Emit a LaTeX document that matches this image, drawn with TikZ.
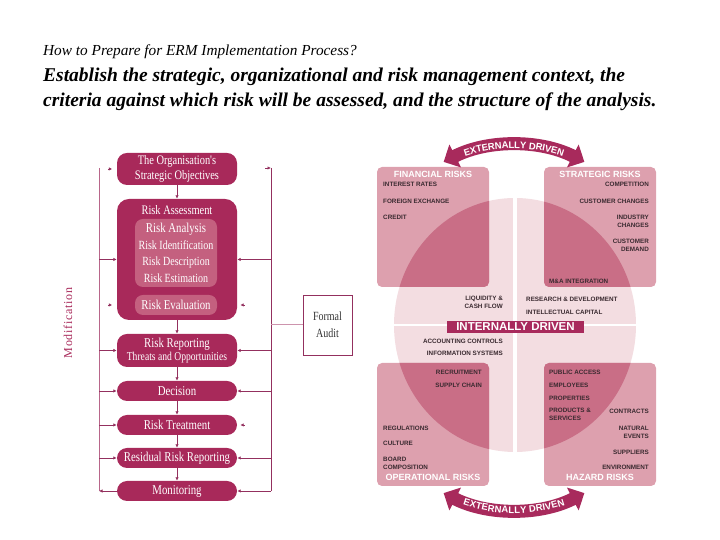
\documentclass[tikz,border=0pt]{standalone}
\usepackage{fontspec}
\setmainfont{Liberation Serif}
\setsansfont{Liberation Sans}
\newfontfamily\flowfont[FakeStretch=0.8]{Liberation Serif}
\usetikzlibrary{arrows.meta,decorations.text}
\definecolor{boxred}{HTML}{A8295A}
\definecolor{innerred}{HTML}{C4607F}
\definecolor{linered}{HTML}{93305E}
\definecolor{vlinered}{HTML}{B8668A}
\definecolor{diskcol}{HTML}{F3DDE1}
\definecolor{quadcol}{HTML}{DDA0AE}
\definecolor{overcol}{HTML}{C96E86}
\definecolor{darkband}{HTML}{A82A5C}
\definecolor{smalltext}{HTML}{3A2A30}
\begin{document}
\begin{tikzpicture}[x=1pt,y=1pt,
  flowbox/.style={fill=boxred, rounded corners=10pt, minimum width=120pt, inner sep=0pt,
    text=white, align=center, font=\flowfont\fontsize{13.5}{15}\selectfont},
  innerbox/.style={fill=innerred, rounded corners=8pt, minimum width=82pt, inner sep=0pt,
    text=white, align=center, font=\flowfont\fontsize{12.5}{16.5}\selectfont},
  conn/.style={draw=linered, line width=0.8pt, -{Latex[length=3.5pt,width=3.5pt]}},
  vline/.style={draw=vlinered, line width=1pt},
  rline/.style={draw=linered, line width=1pt},
  quad/.style={fill=quadcol, rounded corners=5pt},
  qtitle/.style={text=white, font=\sffamily\bfseries\fontsize{9}{10}\selectfont, inner sep=0pt},
  item/.style={text=smalltext, font=\sffamily\bfseries\fontsize{6.3}{7.8}\selectfont, inner sep=0pt},
  iteml/.style={item, anchor=west, align=left},
  itemr/.style={item, anchor=east, align=right},
  band/.style={draw=darkband, line width=13pt,
    {Triangle[width=25pt,length=13pt]}-{Triangle[width=25pt,length=13pt]}},
  bandtext/.style={decorate, decoration={text along path, text align=center, raise=-3.4pt,
    text={|\sffamily\bfseries\fontsize{9.5}{10}\selectfont\color{white}|EXTERNALLY DRIVEN}}}
]
\useasboundingbox (0,0) rectangle (720,540);

% ---------- title ----------
\node[anchor=base west, inner sep=0pt, font=\itshape\fontsize{15.3}{18}\selectfont] (t1) at (43,484) {How to Prepare for ERM Implementation Process?};
\node[anchor=base west, inner sep=0pt, font=\bfseries\itshape\fontsize{19.5}{22}\selectfont] (t2) at (43,458) {Establish the strategic, organizational and risk management context, the};
\node[anchor=base west, inner sep=0pt, font=\bfseries\itshape\fontsize{19.5}{22}\selectfont] (t3) at (43,433) {criteria against which risk will be assessed, and the structure of the analysis.};

% ---------- left flow chart ----------
\node[flowbox, minimum height=32pt, font=\flowfont\fontsize{13}{15.5}\selectfont] (org) at (177,371) {The Organisation's\\Strategic Objectives};
\node[flowbox, minimum height=121pt, rounded corners=12pt] (ra) at (177,280.5) {};
\node[text=white, font=\flowfont\fontsize{13}{14}\selectfont, inner sep=0pt] (ratitle) at (177,330) {Risk Assessment};
\node[innerbox, minimum height=68pt] (ana) at (176,287) {\fontsize{13.5}{16.5}\selectfont Risk Analysis\\Risk Identification\\Risk Description\\Risk Estimation};
\node[innerbox, minimum height=20pt, font=\flowfont\fontsize{13.5}{15}\selectfont] (eval) at (176,235) {Risk Evaluation};
\node[flowbox, minimum height=33pt] (rr) at (177,189.5) {Risk Reporting\\[-2pt]{\fontsize{12}{13}\selectfont Threats and Opportunities}};
\node[flowbox, minimum height=20pt] (dec) at (177,149) {Decision};
\node[flowbox, minimum height=20pt] (rt) at (177,115) {Risk Treatment};
\node[flowbox, minimum height=20pt] (res) at (177,82) {Residual Risk Reporting};
\node[flowbox, minimum height=20pt] (mon) at (177,49) {Monitoring};

\draw[conn] (org.south) -- (ra.north);
\draw[conn] (ra.south) -- (rr.north);
\draw[conn] (rr.south) -- (dec.north);
\draw[conn] (dec.south) -- (rt.north);
\draw[conn] (rt.south) -- (res.north);
\draw[conn] (res.south) -- (mon.north);

\coordinate (lt) at (99,372);
\coordinate (lb) at (99,49);
\coordinate (rtop) at (271,372);
\coordinate (rbot) at (271,49);
\draw[vline] (lt) -- (lb);
\draw[rline] (rtop) -- (rbot);

% left feed arrows
\draw[conn] (lt |- ra.west) -- (ra.west);
\draw[conn] (lt |- rr.west) -- (rr.west);
\draw[conn] (lt |- dec.west) -- (dec.west);
\draw[conn] (lt |- rt.west) -- (rt.west);
\draw[conn] (lt |- res.west) -- (res.west);
\draw[conn] (mon.west) -- (lb);
% right feed arrows
\draw[conn] (rtop |- ra.east) -- (ra.east);
\draw[conn] (rtop |- rr.east) -- (rr.east);
\draw[conn] (rtop |- dec.east) -- (dec.east);
\draw[conn] (rtop |- res.east) -- (res.east);
\draw[conn] (rbot) -- (mon.east);
% isolated arrow heads
\coordinate (evl) at (ra.west |- eval.west);
\coordinate (evr) at (ra.east |- eval.east);
\coordinate (orgl) at (org.west);
\draw[conn] ([xshift=-9pt]orgl) -- ([xshift=-4.5pt]orgl);
\draw[conn] ([xshift=-9pt]evl) -- ([xshift=-4.5pt]evl);
\draw[conn] ([xshift=7.5pt]evr) -- ([xshift=3pt]evr);
\draw[conn] ([xshift=7.5pt]rt.east) -- ([xshift=3pt]rt.east);
\draw[conn] ([xshift=-6pt]rtop) -- (rtop);

% formal audit
\node[draw=linered, line width=0.8pt, minimum width=49pt, minimum height=60pt, align=center,
  inner sep=0pt, text=black!80, font=\flowfont\fontsize{12.5}{17}\selectfont] (audit) at (327.5,215) {Formal\\Audit};
\draw[draw=vlinered!70, line width=1pt] (rtop |- audit.west) -- (audit.west);

\node[rotate=90, text=boxred, font=\fontsize{12}{14}\selectfont, inner sep=0pt] (modif) at (68,217) {\addfontfeature{LetterSpace=6}Modification};

% ---------- right diagram ----------
\fill[diskcol] (515,215) ellipse [x radius=121, y radius=127];
\fill[white] (512.5,80) rectangle (516.5,350);
\fill[white] (390,214) rectangle (640,216);

\foreach \bx/\by/\cx/\cy in {377/373/489/253, 544/373/656/253, 377/177/489/54, 544/177/656/54}{
  \fill[quad] (\bx,\by) rectangle (\cx,\cy);
  \begin{scope}
    \clip[rounded corners=5pt] (\bx,\by) rectangle (\cx,\cy);
    \fill[overcol] (515,215) ellipse [x radius=121, y radius=127];
    \fill[white] (512.5,80) rectangle (516.5,350);
  \end{scope}
}

\node[fill=darkband, minimum width=137pt, minimum height=12pt, inner sep=0pt,
  text=white, font=\sffamily\bfseries\fontsize{11.5}{12}\selectfont] (intd) at (515.5,213) {INTERNALLY DRIVEN};

% titles
\node[qtitle] (fin) at (433,366) {FINANCIAL RISKS};
\node[qtitle] (str) at (600,366) {STRATEGIC RISKS};
\node[qtitle] (ope) at (433,63) {OPERATIONAL RISKS};
\node[qtitle] (haz) at (600,63) {HAZARD RISKS};

% financial
\node[iteml] (f1) at (383,356) {INTEREST RATES};
\node[iteml] (f2) at (383,339) {FOREIGN EXCHANGE};
\node[iteml] (f3) at (383,323) {CREDIT};
% strategic
\node[itemr] (s1) at (649,356) {COMPETITION};
\node[itemr] (s2) at (649,339) {CUSTOMER CHANGES};
\node[itemr] (s3) at (649,319) {INDUSTRY\\CHANGES};
\node[itemr] (s4) at (649,295) {CUSTOMER\\DEMAND};
\node[iteml] (s5) at (549,259) {M\&A  INTEGRATION};
% internal
\node[itemr] (i1) at (503,237.5) {LIQUIDITY \&\\CASH FLOW};
\node[iteml] (i2) at (526,241) {RESEARCH \& DEVELOPMENT};
\node[iteml] (i3) at (526,228) {INTELLECTUAL CAPITAL};
\node[itemr] (i4) at (503,199) {ACCOUNTING CONTROLS};
\node[itemr] (i5) at (503,187) {INFORMATION SYSTEMS};
% operational
\node[itemr] (o1) at (482,168) {RECRUITMENT};
\node[itemr] (o2) at (482,155) {SUPPLY CHAIN};
\node[iteml] (o3) at (383,112) {REGULATIONS};
\node[iteml] (o4) at (383,97) {CULTURE};
\node[iteml] (o5) at (383,77) {BOARD\\COMPOSITION};
% hazard
\node[iteml] (h1) at (549,168) {PUBLIC ACCESS};
\node[iteml] (h2) at (549,155) {EMPLOYEES};
\node[iteml] (h3) at (549,142) {PROPERTIES};
\node[iteml] (h4) at (549,125.5) {PRODUCTS \&\\SERVICES};
\node[itemr] (h5) at (649,129) {CONTRACTS};
\node[itemr] (h6) at (649,108) {NATURAL\\EVENTS};
\node[itemr] (h7) at (649,88) {SUPPLIERS};
\node[itemr] (h8) at (649,73) {ENVIRONMENT};

% externally driven arcs
\coordinate (ctop) at (514,240);
\coordinate (cbot) at (514,185);
\draw[band] ([shift={(117:155)}]ctop) arc [start angle=117, end angle=63, radius=155];
\path[bandtext] ([shift={(112:155)}]ctop) arc [start angle=112, end angle=68, radius=155];
\draw[band] ([shift={(243:155)}]cbot) arc [start angle=243, end angle=297, radius=155];
\path[bandtext] ([shift={(248:155)}]cbot) arc [start angle=248, end angle=292, radius=155];
\end{tikzpicture}
\end{document}
